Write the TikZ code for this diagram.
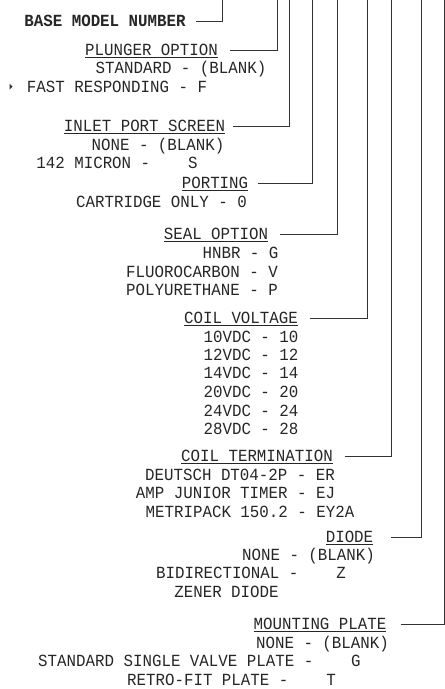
\documentclass[tikz,border=0pt]{standalone}
\usepackage{fontspec}
\setmonofont{Liberation Mono}[FakeStretch=0.93]
\begin{document}
\begin{tikzpicture}[x=1pt,y=-1pt,
  txt/.style={font=\ttfamily\fontsize{17}{17}\selectfont, inner sep=0pt, outer sep=0pt, anchor=base, text=black!85},
  ttl/.style={txt},
  bld/.style={txt, font=\ttfamily\bfseries\fontsize{17}{17}\selectfont},
  conn/.style={draw=black!80, line width=1pt},
  uline/.style={draw=black!85, line width=0.9pt}]
\useasboundingbox (0,0) rectangle (445,689);
\def\dy{5.6}
% top coordinates of vertical leads
\coordinate (v1) at (222.7,0);
\coordinate (v2) at (277.7,0);
\coordinate (v3) at (289,0);
\coordinate (v4) at (312.7,0);
\coordinate (v5) at (337.3,0);
\coordinate (v6) at (367.7,0);
\coordinate (v7) at (391,0);
\coordinate (v8) at (421.7,0);
\coordinate (v9) at (444,0);
% titles and options
\node[bld] (base) at (105,21+\dy) {BASE MODEL NUMBER};
\node[ttl] (plu) at (151.5,50+\dy) {PLUNGER OPTION};
\node[txt] (plu1) at (181,68+\dy) {STANDARD - (BLANK)};
\node[txt] (plu2) at (117,87+\dy) {FAST RESPONDING - F};
\node[ttl] (inl) at (144.5,126+\dy) {INLET PORT SCREEN};
\node[txt] (inl1) at (158,145+\dy) {NONE - (BLANK)};
\node[txt] (inl2) at (117,163+\dy) {142 MICRON -\ \ \ \ S};
\node[ttl] (por) at (215,183+\dy) {PORTING};
\node[txt] (por1) at (161.5,202+\dy) {CARTRIDGE ONLY - 0};
\node[ttl] (sea) at (216,234+\dy) {SEAL OPTION};
\node[txt] (sea1) at (240.5,253+\dy) {HNBR - G};
\node[txt] (sea2) at (202,272+\dy) {FLUOROCARBON - V};
\node[txt] (sea3) at (202,290+\dy) {POLYURETHANE - P};
\node[ttl] (cv) at (241,318+\dy) {COIL VOLTAGE};
\node[txt] (cv1) at (251,337+\dy) {10VDC - 10};
\node[txt] (cv2) at (251,355+\dy) {12VDC - 12};
\node[txt] (cv3) at (251,373+\dy) {14VDC - 14};
\node[txt] (cv4) at (251,392+\dy) {20VDC - 20};
\node[txt] (cv5) at (251,411+\dy) {24VDC - 24};
\node[txt] (cv6) at (251,429+\dy) {28VDC - 28};
\node[ttl] (ct) at (257,456+\dy) {COIL TERMINATION};
\node[txt] (ct1) at (240,475+\dy) {DEUTSCH DT04-2P - ER};
\node[txt] (ct2) at (235.5,493+\dy) {AMP JUNIOR TIMER - EJ};
\node[txt] (ct3) at (250,512+\dy) {METRIPACK 150.2 - EY2A};
\node[ttl] (dio) at (349.5,537+\dy) {DIODE};
\node[txt] (dio1) at (308.5,555+\dy) {NONE - (BLANK)};
\node[txt] (dio2) at (251,573+\dy) {BIDIRECTIONAL -\ \ \ \ Z};
\node[txt] (dio3) at (226.5,592+\dy) {ZENER DIODE};
\node[ttl] (mp) at (320,624+\dy) {MOUNTING PLATE};
\node[txt] (mp1) at (322.5,643+\dy) {NONE - (BLANK)};
\node[txt] (mp2) at (199.5,661+\dy) {STANDARD SINGLE VALVE PLATE -\ \ \ \ G};
\node[txt] (mp3) at (231.5,680+\dy) {RETRO-FIT PLATE -\ \ \ \ T};
% small mark at left of FAST RESPONDING
\fill[black!80] (9.5,83.5) -- (12.5,86.5) -- (9.5,89.5) -- cycle;
% underlines
\foreach \n in {plu,inl,por,sea,cv,ct,dio,mp}
  \draw[uline] ([yshift=-2pt]\n.base west) -- ([yshift=-2pt]\n.base east);
% connectors
\draw[conn] ([xshift=10pt]base.east) -| (v1);
\draw[conn] ([xshift=12pt]plu.east) -| (v2);
\draw[conn] ([xshift=8pt]inl.east) -| (v3);
\draw[conn] ([xshift=10pt]por.east) -| (v4);
\draw[conn] ([xshift=12pt]sea.east) -| (v5);
\draw[conn] ([xshift=12pt]cv.east) -| (v6);
\draw[conn] ([xshift=12pt]ct.east) -| (v7);
\draw[conn] ([xshift=18pt]dio.east) -| (v8);
\draw[conn] ([xshift=15pt]mp.east) -| (v9);
\end{tikzpicture}
\end{document}
